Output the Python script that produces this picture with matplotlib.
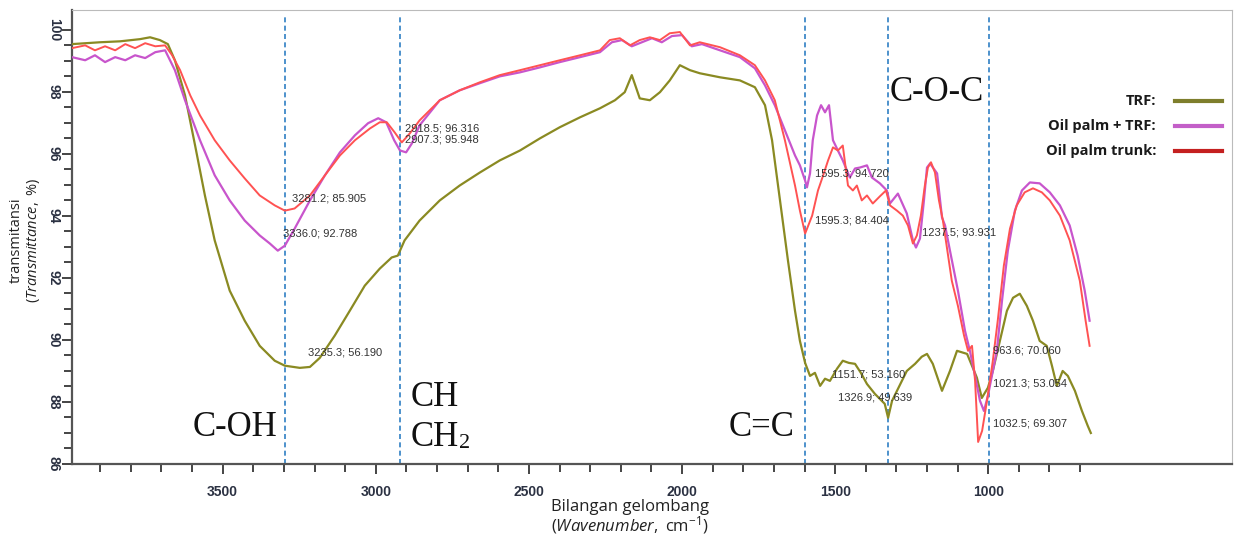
import matplotlib
matplotlib.use("Agg")
import matplotlib.pyplot as plt
from matplotlib.lines import Line2D
import numpy as np

# ---------------- data ----------------
trf_wn = [3992, 3900, 3835, 3770, 3737, 3705, 3679, 3656, 3623, 3590, 3558, 3526, 3477, 3428,
          3379, 3330, 3297, 3248, 3215, 3183, 3134, 3085, 3036, 2987, 2948, 2928, 2906, 2857,
          2791, 2726, 2660, 2595, 2529, 2464, 2399, 2333, 2268, 2219, 2187, 2164, 2138, 2105,
          2072, 2040, 2007, 1974, 1942, 1876, 1811, 1762, 1729, 1706, 1680, 1654, 1631, 1615,
          1598, 1582, 1566, 1549, 1533, 1517, 1494, 1475, 1455, 1435, 1416, 1396, 1370, 1338,
          1327, 1314, 1298, 1266, 1239, 1217, 1200, 1181, 1151, 1125, 1102, 1069, 1037, 1021,
          1001, 985, 962, 939, 919, 897, 874, 854, 832, 809, 792, 776, 757, 740, 717, 694, 675, 665]
trf_t = [99.54, 99.60, 99.63, 99.70, 99.76, 99.67, 99.54, 99.02, 97.89, 96.27, 94.66, 93.21, 91.59, 90.62,
         89.81, 89.33, 89.17, 89.10, 89.13, 89.42, 90.14, 90.94, 91.75, 92.30, 92.66, 92.72, 93.21, 93.85,
         94.50, 94.98, 95.40, 95.79, 96.11, 96.50, 96.86, 97.18, 97.47, 97.73, 97.99, 98.54, 97.79, 97.73,
         97.99, 98.37, 98.86, 98.70, 98.60, 98.47, 98.37, 98.15, 97.57, 96.44, 94.50, 92.56, 90.94, 89.97,
         89.26, 88.84, 88.94, 88.52, 88.75, 88.68, 89.07, 89.33, 89.26, 89.23, 88.94, 88.58, 88.26, 87.94,
         87.49, 88.04, 88.36, 89.00, 89.23, 89.46, 89.55, 89.23, 88.36, 89.00, 89.65, 89.55, 88.78, 88.13,
         88.46, 89.00, 89.97, 90.94, 91.36, 91.49, 91.10, 90.62, 89.97, 89.81, 89.17, 88.52, 89.00, 88.84,
         88.36, 87.71, 87.23, 87.00]

mix_wn = [3992, 3949, 3917, 3884, 3851, 3818, 3786, 3753, 3720, 3688, 3656, 3623, 3574, 3526, 3477,
          3428, 3379, 3346, 3320, 3297, 3265, 3215, 3166, 3117, 3068, 3025, 2992, 2966, 2940, 2921,
          2901, 2882, 2857, 2791, 2726, 2660, 2595, 2529, 2464, 2399, 2333, 2268, 2229, 2196, 2164,
          2131, 2098, 2066, 2033, 2000, 1968, 1935, 1876, 1811, 1762, 1729, 1697, 1664, 1631, 1615,
          1598, 1592, 1582, 1573, 1559, 1546, 1533, 1520, 1507, 1491, 1475, 1452, 1435, 1419, 1396,
          1380, 1354, 1331, 1321, 1295, 1266, 1246, 1236, 1223, 1210, 1200, 1190, 1167, 1151, 1141,
          1125, 1099, 1076, 1060, 1043, 1027, 1014, 1001, 985, 972, 955, 936, 913, 890, 864, 832,
          799, 766, 734, 708, 685, 669]
mix_t = [99.12, 99.02, 99.18, 98.96, 99.12, 99.02, 99.18, 99.09, 99.28, 99.34, 98.70, 97.73, 96.44, 95.31, 94.50,
         93.85, 93.37, 93.11, 92.88, 93.04, 93.59, 94.50, 95.31, 96.05, 96.60, 96.99, 97.15, 97.02, 96.44, 96.11,
         96.05, 96.34, 96.92, 97.73, 98.05, 98.28, 98.50, 98.63, 98.79, 98.96, 99.12, 99.28, 99.60, 99.67, 99.47,
         99.60, 99.73, 99.60, 99.80, 99.83, 99.47, 99.54, 99.34, 99.12, 98.76, 98.21, 97.57, 96.76, 95.95, 95.63,
         95.14, 94.92, 95.37, 96.44, 97.24, 97.57, 97.34, 97.57, 96.44, 96.11, 95.79, 95.24, 95.53, 95.56, 95.63,
         95.24, 95.05, 94.82, 94.40, 94.72, 94.08, 93.21, 92.98, 93.27, 94.50, 95.56, 95.69, 95.37, 93.95, 93.69,
         92.88, 91.59, 90.30, 89.65, 88.84, 88.04, 87.71, 88.20, 89.00, 89.65, 91.27, 92.88, 94.17, 94.82, 95.08, 95.05,
         94.76, 94.34, 93.69, 92.72, 91.59, 90.62]

trunk_wn = [3992, 3949, 3917, 3884, 3851, 3818, 3786, 3753, 3720, 3688, 3665, 3639, 3606, 3574, 3526,
            3477, 3428, 3379, 3330, 3297, 3265, 3215, 3166, 3117, 3068, 3019, 2987, 2964, 2938, 2915,
            2889, 2857, 2791, 2726, 2660, 2595, 2529, 2464, 2399, 2333, 2268, 2236, 2203, 2170, 2138,
            2105, 2072, 2040, 2007, 1974, 1942, 1876, 1811, 1762, 1729, 1697, 1664, 1631, 1615, 1598,
            1575, 1556, 1539, 1523, 1507, 1491, 1475, 1458, 1442, 1429, 1413, 1396, 1377, 1354, 1334,
            1321, 1298, 1279, 1262, 1246, 1233, 1220, 1207, 1197, 1187, 1174, 1161, 1148, 1135, 1119,
            1099, 1079, 1066, 1053, 1043, 1033, 1020, 1004, 985, 969, 949, 929, 907, 881, 854, 825,
            799, 766, 734, 701, 682, 669]
trunk_t = [99.41, 99.50, 99.34, 99.47, 99.34, 99.54, 99.41, 99.57, 99.47, 99.50, 99.18, 98.70, 97.89, 97.24, 96.44,
           95.79, 95.21, 94.66, 94.34, 94.17, 94.24, 94.66, 95.31, 95.95, 96.44, 96.82, 97.02, 97.02, 96.69, 96.37,
           96.66, 97.08, 97.73, 98.05, 98.31, 98.54, 98.70, 98.86, 99.02, 99.18, 99.34, 99.67, 99.73, 99.50, 99.67,
           99.76, 99.67, 99.89, 99.93, 99.50, 99.60, 99.44, 99.18, 98.86, 98.37, 97.73, 96.44, 94.98, 94.17, 93.43,
           94.01, 94.82, 95.31, 95.79, 96.21, 96.11, 96.27, 94.98, 94.82, 94.98, 94.50, 94.66, 94.40, 94.63, 94.82,
           94.34, 94.17, 94.01, 93.69, 93.11, 93.37, 94.01, 94.98, 95.56, 95.73, 95.40, 94.50, 93.85, 92.98, 91.91,
           91.10, 90.14, 89.65, 89.81, 88.68, 86.71, 87.07, 88.04, 89.33, 90.62, 92.40, 93.59, 94.34, 94.76, 94.89, 94.76,
           94.50, 94.01, 93.21, 91.91, 90.62, 89.81]

series_names = ["TRF:", "Oil palm + TRF:", "Oil palm trunk:"]
group_lines = [3296, 2921, 1597, 1327, 998]

peak_labels = ["3281.2; 85.905", "3336.0; 92.788", "2918.5; 96.316", "2907.3; 95.948",
               "3235.3; 56.190", "1595.3; 94.720", "1595.3; 84.404", "1237.5; 93.931",
               "1151.7; 53.160", "1326.9; 49.639", "963.6; 70.060", "1021.3; 53.054",
               "1032.5; 69.307"]
peak_label_wn = [3273, 3302, 2905, 2905, 3221, 1566, 1566, 1216, 1511, 1491, 985, 985, 985]
peak_label_t = [94.56, 93.43, 96.82, 96.47, 89.59, 95.37, 93.85, 93.46, 88.88, 88.13, 89.65, 88.58, 87.29]

xticks_major = [3500, 3000, 2500, 2000, 1500, 1000]
yticks_major = [86, 88, 90, 92, 94, 96, 98, 100]

# ---------------- style ----------------
plt.rcParams['mathtext.fontset'] = 'custom'
plt.rcParams['mathtext.rm'] = 'Open Sans'
plt.rcParams['mathtext.it'] = 'Open Sans:italic'

W, H = 1236, 535
fig = plt.figure(figsize=(W / 100, H / 100), dpi=100)
ax = fig.add_axes([72 / W, 1 - 464 / H, (1232 - 72) / W, (464 - 10) / H])

c_trf = "#8a8a22"
c_mix = "#c855cc"
c_trunk = "#ff5252"

ax.plot(trf_wn, trf_t, color=c_trf, lw=1.6, zorder=3)
ax.plot(mix_wn, mix_t, color=c_mix, lw=1.6, zorder=4)
ax.plot(trunk_wn, trunk_t, color=c_trunk, lw=1.4, zorder=5)

ax.set_xlim(3992, 204)
ax.set_ylim(86, 100.64)

for g in group_lines:
    ax.axvline(g, ymin=0, ymax=0.985, color="#2f7fc4", ls=(0, (3, 2)), lw=1.2, zorder=2)

# ticks
ax.set_xticks(xticks_major)
ax.set_xticks(np.arange(3900, 650, -100), minor=True)
ax.set_yticks(yticks_major)
ax.set_yticks(np.arange(86, 100.1, 0.5), minor=True)
ax.tick_params(axis='both', which='major', direction='out', length=7, width=1.4, color="#444444",
               labelcolor="#2b3142", labelsize=10)
ax.tick_params(axis='both', which='minor', direction='out', length=6, width=1.4, color="#444444")
ax.tick_params(axis='x', which='major', pad=8)
ax.tick_params(axis='y', which='major', pad=1)
for lab in ax.get_xticklabels():
    lab.set_fontweight('bold')
    lab.set_family('Liberation Sans')
for lab in ax.get_yticklabels():
    lab.set_fontweight('bold')
    lab.set_family('Liberation Sans')
    lab.set_rotation(270)
    lab.set_va('center')

for s in ['left', 'bottom']:
    ax.spines[s].set_color("#555555")
    ax.spines[s].set_linewidth(1.6)
for s in ['top', 'right']:
    ax.spines[s].set_color("#bbbbbb")
    ax.spines[s].set_linewidth(0.8)

# peak labels
for txt, wn, t in zip(peak_labels, peak_label_wn, peak_label_t):
    ax.text(wn, t, txt, fontsize=8, family='Liberation Sans', color="#333333",
            ha='left', va='center', zorder=6)

# group labels
serif = 'Liberation Serif'
fig.text(235 / W, 1 - 428 / H, "C-OH", fontsize=25, family=serif, ha='center', va='center', color="#111111")
fig.text(411 / W, 1 - 398 / H, "CH", fontsize=25, family=serif, ha='left', va='center', color="#111111")
fig.text(411 / W, 1 - 437 / H, "CH", fontsize=25, family=serif, ha='left', va='center', color="#111111")
fig.text(459 / W, 1 - 443 / H, "2", fontsize=16, family=serif, ha='left', va='center', color="#111111")
fig.text(762 / W, 1 - 428 / H, "C=C", fontsize=25, family=serif, ha='center', va='center', color="#111111")
fig.text(937 / W, 1 - 92 / H, "C-O-C", fontsize=25, family=serif, ha='center', va='center', color="#111111")

# legend
leg_y = [101, 126, 151]
leg_cols = ["#7e7e2c", "#c35fc8", "#c42020"]
for name, yy, cc in zip(series_names, leg_y, leg_cols):
    fig.text(1156 / W, 1 - yy / H, name, fontsize=10.5, family='Open Sans', fontweight='bold',
             ha='right', va='center', color="#1a1a1a")
    fig.add_artist(Line2D([1175 / W, 1222 / W], [1 - yy / H, 1 - yy / H], color=cc, lw=3,
                          transform=fig.transFigure))

# axis titles
fig.text(630 / W, 1 - 507 / H, "Bilangan gelombang", fontsize=12, family='Open Sans',
         ha='center', va='center', color="#222222")
fig.text(630 / W, 1 - 525 / H, r"($\it{Wavenumber,}$ cm$^{-1}$)", fontsize=12, family='Open Sans',
         ha='center', va='center', color="#222222")
fig.text(16 / W, 1 - 240 / H, "transmitansi", fontsize=10.5, family='Open Sans', rotation=90,
         ha='center', va='center', color="#222222")
fig.text(33 / W, 1 - 240 / H, r"($\it{Transmittance,}$ %)", fontsize=10.5, family='Open Sans', rotation=90,
         ha='center', va='center', color="#222222")

fig.savefig("out.png", dpi=100)
